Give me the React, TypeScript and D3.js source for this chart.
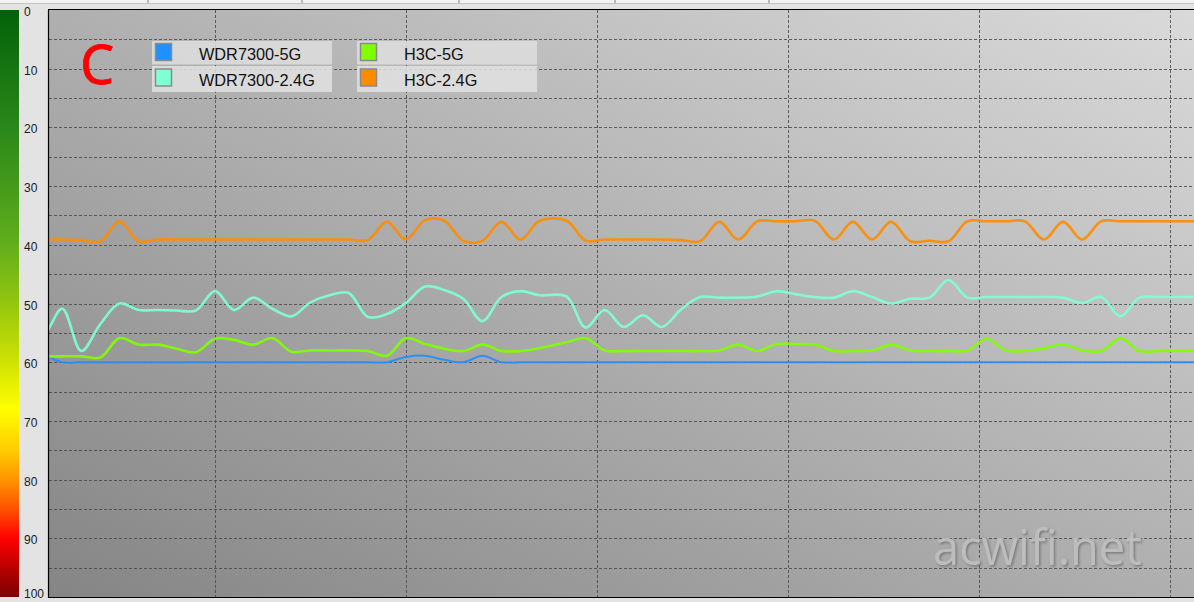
import React from 'react';
import * as d3 from 'd3';

const W = 1194;
const H = 602;

// sample times (x)
const TIME = [
  0, 1, 2, 3, 4, 5, 6, 7, 8, 9, 10, 11, 12, 13, 14, 15, 16, 17, 18, 19, 20,
  21, 22, 23, 24, 25, 26, 27, 28.4, 29.4, 30.4, 31.4, 32.4, 33.4, 34.4, 35.4,
  36.4, 37.4, 38.4, 39.4, 40.4, 41.4, 42.4, 43.4, 44.4, 45.4, 46.4, 47.4, 48.4,
  49.4, 50.4, 51.4, 52.4, 53.4, 54.4, 55.4, 56.4, 57.4, 58.4, 59.4, 60.4, 61.4,
];

const SERIES_NAMES = ['WDR7300-5G', 'WDR7300-2.4G', 'H3C-5G', 'H3C-2.4G'];
const SERIES_COLORS = ['#1e90ff', '#7fffd4', '#7fff00', '#ff8c00'];

const WDR_5G = [
  58.5, 58.8, 60, 60, 60, 60, 60, 60, 60, 60, 60, 60, 60, 60, 60, 60, 60, 60, 60, 60,
  59.1, 58.9, 59.6, 60, 58.9, 60, 60, 60, 60, 60, 60, 60, 60, 60, 60, 60, 60, 60, 60,
  60, 60, 60, 60, 60, 60, 60, 60, 60, 60, 60, 60, 60, 60, 60, 60, 60, 60, 60, 60, 60,
  60, 60,
];

const WDR_24G = [
  56, 55.5, 50.9, 58.1, 53.5, 50.0, 51.1, 51.1, 51.2, 51.2, 47.9, 51.1, 49.0, 50.9,
  52.2, 49.8, 48.6, 48.2, 52.3, 51.8, 49.9, 47.1, 47.7, 49.2, 53.0, 48.9, 47.9, 48.6,
  48.8, 54.1, 51.1, 54.0, 52.0, 54.0, 51.0, 48.9, 49.0, 49.0, 48.8, 47.9, 48.4, 48.9,
  49.0, 47.9, 48.9, 50.0, 49.2, 49.0, 46.0, 49.0, 48.9, 48.9, 48.9, 48.9, 49.0, 49.9,
  48.9, 52.2, 49.0, 48.9, 48.9, 48.9,
];

const H3C_5G = [
  59, 59, 59, 59.0, 59.2, 55.9, 57.0, 57.0, 57.7, 58.3, 56.0, 56.2, 57.0, 55.9, 58.2,
  58.0, 58.0, 58.0, 58.1, 58.9, 55.9, 56.9, 57.7, 58.1, 57.0, 58.1, 58.1, 57.6, 56.6,
  55.9, 58.0, 58.1, 58.1, 58.1, 58.1, 58.1, 58.0, 57.0, 58.1, 56.9, 56.9, 57.0, 58.1,
  58.1, 58.0, 57.0, 58.0, 58.1, 58.1, 58.0, 56.0, 58.0, 58.1, 57.6, 57.0, 58.0, 58.1,
  55.9, 58.1, 58.1, 58.1, 58.1,
];

const H3C_24G = [
  39.1, 39.1, 39.1, 39.2, 39.4, 36.0, 39.4, 39.1, 39.1, 39.1, 39.1, 39.1, 39.1, 39.1,
  39.1, 39.1, 39.1, 39.1, 39.2, 36.1, 39.1, 35.8, 35.9, 39.3, 39.3, 36.1, 39.1, 35.9,
  35.9, 39.3, 39.1, 39.1, 39.1, 39.1, 39.2, 39.4, 36.1, 39.1, 36.0, 36.0, 36.0, 35.9,
  39.1, 36.1, 39.1, 36.1, 39.4, 39.3, 39.4, 36.0, 36.0, 36.0, 36.0, 39.1, 36.1, 39.1,
  36.0, 36.0, 36.0, 36.0, 36.0, 36.0,
];

const SERIES = [WDR_5G, WDR_24G, H3C_5G, H3C_24G];

const Y_TICKS = [0, 10, 20, 30, 40, 50, 60, 70, 80, 90, 100];
const Y_GRID = [5, 10, 15, 20, 25, 30, 35, 40, 45, 50, 55, 60, 65, 70, 75, 80, 85, 90, 95];
const X_GRID = [10, 20, 30, 40, 50, 60];
const TOP_TICKS = [148, 302, 459, 615, 769];

const COLORBAR_STOPS = [
  [0, '#03620a'],
  [0.2, '#2a871a'],
  [0.4, '#62ae1c'],
  [0.5, '#94c60e'],
  [0.6, '#d0e204'],
  [0.68, '#ffff00'],
  [0.75, '#ffcc00'],
  [0.8, '#ff9400'],
  [0.85, '#ff5200'],
  [0.9, '#ff0000'],
  [0.95, '#bb0000'],
  [1, '#7a0000'],
];

const PL = 49;
const PT = 10;
const PB = 597;
const PR = 1194;

export default function App() {
  const x = d3.scaleLinear().domain([0, 60]).range([24, 1170]);
  const y = d3.scaleLinear().domain([0, 100]).range([PT, PB]);

  const line = d3
    .line<number>()
    .x((_, i) => x(TIME[i]))
    .y((d) => y(d))
    .curve(d3.curveCatmullRom.alpha(0.5));

  const font = 'Liberation Sans, Arial, sans-serif';

  const legendRows = [
    { box: 0, row: 0, idx: 0 },
    { box: 0, row: 1, idx: 1 },
    { box: 1, row: 0, idx: 2 },
    { box: 1, row: 1, idx: 3 },
  ];
  const boxX = [152, 357];
  const boxW = 180;

  return (
    <svg
      width={W}
      height={H}
      style={{ position: 'absolute', left: 0, top: 0, display: 'block' }}
    >
      <defs>
        <linearGradient id="bg" x1="0" y1="1" x2="1" y2="0">
          <stop offset="0" stopColor="#858585" />
          <stop offset="1" stopColor="#dadada" />
        </linearGradient>
        <linearGradient id="cb" x1="0" y1="0" x2="0" y2="1">
          {COLORBAR_STOPS.map(([o, c]) => (
            <stop key={String(o)} offset={o as number} stopColor={c as string} />
          ))}
        </linearGradient>
        <clipPath id="plotClip">
          <rect x={PL} y={PT} width={PR - PL} height={PB - PT} />
        </clipPath>
        <filter id="wmShadow" x="-10%" y="-10%" width="120%" height="130%">
          <feDropShadow dx="1.5" dy="1.5" stdDeviation="0.8" floodColor="#6e6e6e" floodOpacity="0.8" />
        </filter>
      </defs>

      {/* window background */}
      <rect x={0} y={0} width={W} height={H} fill="#e3e3e3" />
      <rect x={0} y={0} width={W} height={3} fill="#f2f2f2" />
      <line x1={0} x2={W} y1={3.5} y2={3.5} stroke="#c4c4c4" strokeWidth={1} />
      {TOP_TICKS.map((t) => (
        <line key={t} x1={t} x2={t} y1={0} y2={3} stroke="#808080" strokeWidth={1} />
      ))}

      {/* color bar */}
      <rect x={0} y={PT} width={19} height={PB - PT} fill="url(#cb)" />

      {/* y labels */}
      {Y_TICKS.map((t) => (
        <text
          key={t}
          x={24}
          y={Math.min(y(t) + 6, 598)}
          fontSize={12}
          fontFamily={font}
          fill="#1a1a1a"
        >
          {t}
        </text>
      ))}

      {/* plot background */}
      <rect x={PL} y={PT} width={PR - PL} height={PB - PT} fill="url(#bg)" />

      {/* grid */}
      <g clipPath="url(#plotClip)">
        {Y_GRID.map((g) => (
          <line
            key={'h' + g}
            x1={PL}
            x2={PR}
            y1={Math.round(y(g)) + 0.5}
            y2={Math.round(y(g)) + 0.5}
            stroke="#4a4a4a"
            strokeWidth={1}
            strokeDasharray="3,2"
            opacity={0.85}
          />
        ))}
        {X_GRID.map((g) => (
          <line
            key={'v' + g}
            x1={Math.round(x(g)) + 0.5}
            x2={Math.round(x(g)) + 0.5}
            y1={PT}
            y2={PB}
            stroke="#4a4a4a"
            strokeWidth={1}
            strokeDasharray="3,2"
            opacity={0.85}
          />
        ))}

        {/* watermark */}
        <text
          x={933}
          y={565}
          fontSize={50}
          fontFamily="Open Sans, Noto Sans, sans-serif"
          fill="#bdbdbd"
          filter="url(#wmShadow)"
          textLength={209}
          lengthAdjust="spacingAndGlyphs"
        >
          acwifi.net
        </text>

        {/* series */}
        {SERIES.map((s, i) => (
          <path
            key={SERIES_NAMES[i]}
            d={line(s) || ''}
            fill="none"
            stroke={SERIES_COLORS[i]}
            strokeWidth={i === 0 ? 2 : 2.6}
            strokeLinejoin="round"
            strokeLinecap="round"
            opacity={0.92}
          />
        ))}
      </g>

      {/* plot border */}
      <line x1={PL - 0.5} x2={PL - 0.5} y1={PT} y2={PB + 1} stroke="#000" strokeWidth={1.2} />
      <line x1={PL - 1} x2={PR} y1={PT - 0.5} y2={PT - 0.5} stroke="#000" strokeWidth={1.2} />
      <line x1={PL - 1} x2={PR} y1={PB + 0.5} y2={PB + 0.5} stroke="#000" strokeWidth={1.2} />

      {/* big red C */}
      <text
        x={80}
        y={83.5}
        fontSize={54}
        fontFamily="Noto Sans, Open Sans, sans-serif"
        fill="#ff0000"
        stroke="#ff0000"
        strokeWidth={0.8}
      >
        C
      </text>

      {/* legend */}
      {boxX.map((bx, b) => (
        <g key={'box' + b}>
          <rect x={bx} y={41} width={boxW} height={23.5} fill="#dedede" opacity={0.85} />
          <rect x={bx} y={66} width={boxW} height={26} fill="#e2e2e2" opacity={0.85} />
        </g>
      ))}
      {legendRows.map(({ box, row, idx }) => {
        const bx = boxX[box];
        const sy = row === 0 ? 43.5 : 69;
        const ty = row === 0 ? 60 : 86;
        return (
          <g key={'leg' + idx}>
            <rect
              x={bx + 3.5}
              y={sy}
              width={16}
              height={17}
              fill={SERIES_COLORS[idx]}
              stroke="#8a8a8a"
              strokeWidth={1.5}
            />
            <text x={bx + 47} y={ty} fontSize={16.3} fontFamily={font} fill="#111">
              {SERIES_NAMES[idx]}
            </text>
          </g>
        );
      })}
    </svg>
  );
}
